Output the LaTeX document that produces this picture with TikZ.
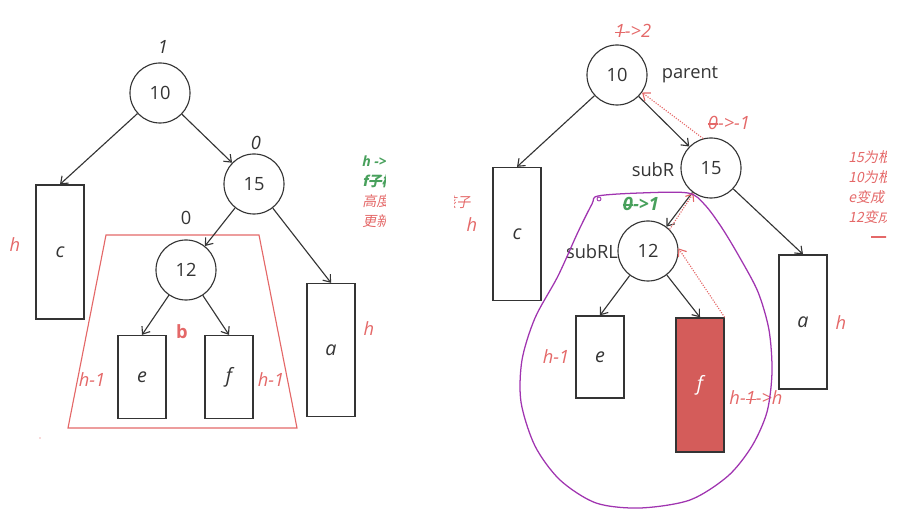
\documentclass[tikz,border=0pt]{standalone}
\usepackage{fontspec}
\setmainfont{Open Sans}
\newfontfamily\cjk[FakeSlant=0.2]{Noto Sans CJK SC}
\usetikzlibrary{arrows.meta, positioning, calc}
\definecolor{myred}{RGB}{228,104,104}
\definecolor{mygreen}{RGB}{72,160,92}
\definecolor{mydark}{RGB}{52,52,52}
\definecolor{myfill}{RGB}{212,92,90}
\definecolor{mypurple}{RGB}{160,52,176}
\newcommand{\strk}[1]{\setbox0\hbox{#1}\rlap{\hbox to \wd0{\leaders\hrule height 0.62ex depth -0.5ex\hfill}}\box0}
\tikzset{
  keynode/.style={circle, draw=mydark, minimum size=1.5cm, inner sep=0pt,
    line width=0.8pt, font=\fontsize{13}{15}\selectfont, text=mydark},
  subtree/.style={rectangle, draw=mydark, minimum width=1.2cm, inner sep=0pt,
    line width=0.9pt, font=\fontsize{14}{16}\selectfont\itshape, text=mydark},
  bflabel/.style={font=\fontsize{13}{15}\selectfont\itshape, text=mydark},
  hlabel/.style={font=\fontsize{13}{15}\selectfont\itshape, text=myred},
  grlabel/.style={font=\fontsize{13}{15}\selectfont\itshape\bfseries, text=mygreen},
  namelabel/.style={font=\fontsize{13}{15}\selectfont, text=mydark},
  note/.style={font=\cjk\fontsize{10}{12}\selectfont, anchor=west, inner sep=0pt},
  arrow/.style={-{Straight Barb[length=4.5pt,width=7pt]}, line width=0.8pt, color=mydark},
  redarrow/.style={-{Straight Barb[length=4.5pt,width=7pt]}, densely dotted, line width=0.8pt, color=myred},
  trap/.style={draw=myred, line width=0.8pt}
}
\begin{document}
\begin{tikzpicture}[x=0.025cm, y=-0.025cm]
  \useasboundingbox (0,0) rectangle (916,523);

  % Left tree: nodes
  \node[keynode] (l10) at (160,93) {10};
  \node[keynode] (l15) at (254,184) {15};
  \node[keynode] (l12) at (186,270) {12};
  \node[subtree, minimum height=3.35cm] (lc) at (60,252) {c};
  \node[subtree, minimum height=2.075cm] (le) at (142,377) {e};
  \node[subtree, minimum height=2.075cm] (lf) at (229,377) {f};
  \node[subtree, minimum height=3.325cm] (la) at (331,350) {a};

  % Left tree: labels
  \node[bflabel] (lbf10) at (163,47) {1};
  \node[bflabel] (lbf15) at (256,143) {0};
  \node[namelabel] (lbf12) at (186,218) {0};
  \node[hlabel] (lhc) at (15,245) {h};
  \node[hlabel] (lhe) at (92,380) {h-1};
  \node[hlabel] (lhf) at (271,380) {h-1};
  \node[hlabel] (lha) at (369,329) {h};
  \node[font=\fontsize{13}{15}\selectfont\bfseries, text=myred] (lb) at (182,332) {b};
  \fill[myred!50] (40,438) circle (0.8);

  % Left tree: outline of b
  \draw[trap] (106,235) -- (259,235) -- (297,428) -- (68,428) -- cycle;

  % Left tree: connections
  \draw[arrow] (l10) -- (lc.north);
  \draw[arrow] (l10) -- (l15);
  \draw[arrow] (l15) -- (l12);
  \draw[arrow] (l15) -- (la.north);
  \draw[arrow] (l12) -- (le.north);
  \draw[arrow] (l12) -- (lf.north);

  % Left notes (cut off)
  \begin{scope}
    \clip (340,140) rectangle (385,235);
    \node[note, text=mygreen, font=\fontsize{10}{12}\selectfont\itshape\bfseries] (ln1) at (362,161) {h ->};
    \node[note, text=mygreen, font=\cjk\fontsize{10}{12}\selectfont\bfseries] (ln2) at (362,181) {f子树};
    \node[note, text=myred] (ln3) at (362,201) {高度};
    \node[note, text=myred] (ln4) at (362,221) {更新};
  \end{scope}

  % Right tree: nodes
  \node[keynode] (r10) at (617,75) {10};
  \node[keynode] (r15) at (711,168) {15};
  \node[keynode] (r12) at (648,251) {12};
  \node[subtree, minimum height=3.325cm] (rc) at (517,234) {c};
  \node[subtree, minimum height=2.05cm] (re) at (600,357) {e};
  \node[subtree, fill=myfill, text=white, minimum height=3.35cm] (rf) at (700,385) {f};
  \node[subtree, minimum height=3.35cm] (ra) at (803,322) {a};

  % Right tree: labels
  \node[hlabel] (rbf10) at (633,31) {\strk{1}->2};
  \node[namelabel] (rp) at (690,75) {parent};
  \node[hlabel] (rbf15) at (729,123) {\strk{0}->-1};
  \node[namelabel] (rsr) at (653,170) {subR};
  \node[grlabel] (rbf12) at (641,204) {\strk{0}->1};
  \node[namelabel] (rsrl) at (592,252) {subRL};
  \node[hlabel] (rhc) at (472,225) {h};
  \node[hlabel] (rhe) at (556,357) {h-1};
  \node[hlabel] (rhf) at (756,398) {h-\strk{1}->h};
  \node[hlabel] (rha) at (841,323) {h};

  % Right tree: connections
  \draw[arrow] (r10) -- (rc.north);
  \draw[arrow] (r10) -- (r15);
  \draw[arrow] (r15) -- (r12);
  \draw[arrow] (r15) -- (ra.north);
  \draw[arrow] (r12) -- (re.north);
  \draw[arrow] (r12) -- (rf.north);

  % Right tree: update path
  \draw[redarrow] (rf.north east) -- (r12.5);
  \draw[redarrow] (r12.45) -- (r15.235);
  \draw[redarrow] (r15.105) -- (r10.-35);

  % Right tree: rotated part
  \draw[mypurple, line width=0.9pt] plot[smooth cycle, tension=0.5] coordinates {
    (598,196) (640,193) (688,193) (705,205) (722,228) (740,258) (758,292)
    (769,330) (772,372) (767,412) (752,446) (728,476) (690,500) (640,508)
    (596,503) (560,480) (535,446) (521,402) (522,360) (535,318) (558,276)
    (578,232) (592,204)};
  \draw[mypurple, line width=0.6pt] (599,199) circle (2);

  % Right notes (cut off)
  \begin{scope}
    \clip (454,185) rectangle (480,215);
    \node[note, text=myred] (rn0) at (442,202) {孩子};
  \end{scope}
  \begin{scope}
    \clip (840,140) rectangle (886,245);
    \node[note, text=myred] (rn1) at (848,157) {15为根};
    \node[note, text=myred] (rn2) at (848,177) {10为根};
    \node[note, text=myred] (rn3) at (848,197) {e变成};
    \node[note, text=myred] (rn4) at (848,217) {12变成};
    \draw[myred, line width=2pt] (871,237) -- (890,237);
  \end{scope}

\end{tikzpicture}
\end{document}
